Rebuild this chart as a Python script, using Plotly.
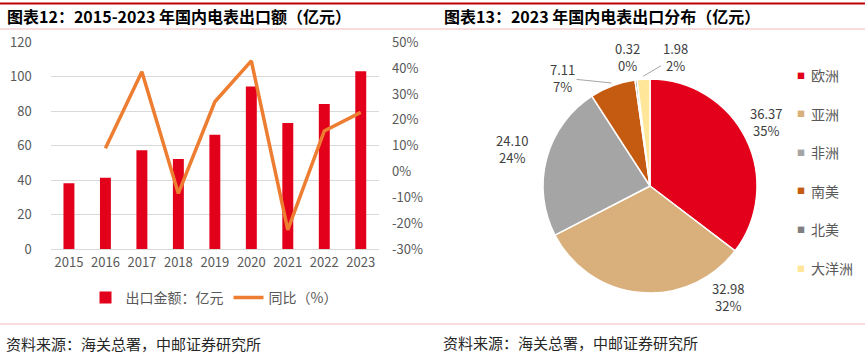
import math
import plotly.graph_objects as go

# ---------------- data ----------------
years = ["2015", "2016", "2017", "2018", "2019", "2020", "2021", "2022", "2023"]
export_value = [38.1, 41.4, 57.3, 52.3, 66.4, 94.3, 73.2, 84.2, 103.2]
yoy_pct = [None, 9.0, 38.6, -8.5, 27.0, 42.8, -22.6, 15.7, 22.9]

left_tickvals = [0, 20, 40, 60, 80, 100, 120]
right_tickvals = [-30, -20, -10, 0, 10, 20, 30, 40, 50]
right_ticktext = ["-30%", "-20%", "-10%", "0%", "10%", "20%", "30%", "40%", "50%"]

regions = ["欧洲", "亚洲", "非洲", "南美", "北美", "大洋洲"]
region_values = [36.37, 32.98, 24.10, 7.11, 0.32, 1.98]
region_pct_labels = ["35%", "32%", "24%", "7%", "0%", "2%"]
region_colors = ["#E2001A", "#D9B07C", "#A5A5A5", "#C55A11", "#7F7F7F", "#FFE699"]

bar_name = "出口金额：亿元"
line_name = "同比（%）"
title_left = "图表12：2015-2023 年国内电表出口额（亿元）"
title_right = "图表13：2023 年国内电表出口分布（亿元）"
source_text = "资料来源：海关总署，中邮证券研究所"

# ---------------- styling / layout helpers ----------------
W, H = 865, 356
FONT = "Noto Sans CJK SC, Noto Sans, sans-serif"
TICK_COLOR = "#595959"

# pie label placement style (angle shift from slice middle, distance from centre, leader line)
label_angle_shift = [-2.6, -40, 0, -18.5, -2.5, 14.5]
label_dist = [132, 136, 143, 139, 131, 131]
label_leader = [False, False, False, True, False, True]


def fx(px):
    return px / W


def fy(py):
    return 1 - py / H


fig = go.Figure()

fig.add_trace(go.Bar(
    x=years, y=export_value, name=bar_name,
    marker=dict(color="#E2001A", line=dict(width=0)),
    width=0.3, yaxis="y", xaxis="x",
))
fig.add_trace(go.Scatter(
    x=years, y=yoy_pct, name=line_name, mode="lines",
    line=dict(color="#ED7D31", width=3.5),
    yaxis="y2", xaxis="x", connectgaps=False,
))

pie_cx, pie_cy, pie_r = 650, 186, 107
fig.add_trace(go.Pie(
    labels=regions, values=region_values,
    textposition="none",
    marker=dict(colors=region_colors, line=dict(color="white", width=1.5)),
    sort=False, direction="clockwise", rotation=0,
    domain=dict(x=[fx(pie_cx - pie_r), fx(pie_cx + pie_r)],
                y=[fy(pie_cy + pie_r), fy(pie_cy - pie_r)]),
    showlegend=False, hoverinfo="label+value+percent", automargin=False,
))

annotations = [
    dict(text=f"<b>{title_left}</b>", x=fx(5), y=fy(16), xanchor="left", yanchor="middle",
         font=dict(size=16, color="#000000", family=FONT)),
    dict(text=f"<b>{title_right}</b>", x=fx(442), y=fy(16), xanchor="left", yanchor="middle",
         font=dict(size=16, color="#000000", family=FONT)),
    dict(text=source_text, x=fx(4), y=fy(343), xanchor="left", yanchor="middle",
         font=dict(size=15, color="#262626", family=FONT)),
    dict(text=source_text, x=fx(441), y=fy(342), xanchor="left", yanchor="middle",
         font=dict(size=15, color="#262626", family=FONT)),
]

# pie data labels, positioned from each slice's angle
total = sum(region_values)
cum = 0.0
for i, v in enumerate(region_values):
    mid_deg = 360.0 * (cum + v / 2.0) / total
    cum += v
    lab_deg = mid_deg + label_angle_shift[i]
    lx = pie_cx + label_dist[i] * math.sin(math.radians(lab_deg))
    ly = pie_cy - label_dist[i] * math.cos(math.radians(lab_deg))
    txt = f"{v:.2f}<br>{region_pct_labels[i]}"
    font = dict(size=13, color="#404040", family=FONT)
    if label_leader[i]:
        tx = pie_cx + (pie_r + 3) * math.sin(math.radians(mid_deg))
        ty = pie_cy - (pie_r + 3) * math.cos(math.radians(mid_deg))
        annotations.append(dict(text=txt, x=fx(tx), y=fy(ty), ax=lx - tx, ay=ly - ty,
                                showarrow=True, arrowhead=0, arrowwidth=1,
                                arrowcolor="#A6A6A6", standoff=0, startstandoff=0,
                                font=font, align="center"))
    else:
        annotations.append(dict(text=txt, x=fx(lx), y=fy(ly), xanchor="center",
                                yanchor="middle", font=font, align="center"))

# pie legend (right side)
for i, (name, col) in enumerate(zip(regions, region_colors)):
    ypx = 75 + i * 38.6
    annotations.append(dict(text="■", x=fx(801), y=fy(ypx), xanchor="center", yanchor="middle",
                            font=dict(size=8, color=col, family=FONT)))
    annotations.append(dict(text=name, x=fx(809), y=fy(ypx), xanchor="left", yanchor="middle",
                            font=dict(size=14, color=TICK_COLOR, family=FONT)))
for a in annotations:
    a.update(xref="paper", yref="paper")
    a.setdefault("showarrow", False)

shapes = [
    dict(type="line", xref="paper", yref="paper", x0=0, x1=1, y0=fy(3.5), y1=fy(3.5),
         line=dict(color="#C00000", width=2)),
    dict(type="line", xref="paper", yref="paper", x0=0, x1=1, y0=fy(29), y1=fy(29),
         line=dict(color="#F2B8B8", width=1)),
    dict(type="line", xref="paper", yref="paper", x0=0, x1=1, y0=fy(324), y1=fy(324),
         line=dict(color="#F2B8B8", width=1)),
]

fig.update_layout(
    width=W, height=H,
    margin=dict(l=0, r=0, t=0, b=0, autoexpand=False),
    paper_bgcolor="white", plot_bgcolor="white",
    font=dict(family=FONT, size=13, color=TICK_COLOR),
    xaxis=dict(domain=[fx(50.7), fx(379)], type="category", showgrid=False,
               showline=False, ticks="", tickfont=dict(size=13, color=TICK_COLOR),
               ticklabelstandoff=4, automargin=False),
    yaxis=dict(domain=[fy(249), fy(42.3)], range=[0, 120], tickvals=left_tickvals,
               showgrid=True, gridcolor="#D9D9D9", gridwidth=1, zeroline=True,
               zerolinecolor="#D9D9D9", zerolinewidth=1, showline=False, ticks="",
               tickfont=dict(size=13, color=TICK_COLOR), ticklabelstandoff=18,
               automargin=False),
    yaxis2=dict(overlaying="y", side="right", anchor="x", range=[-30, 50],
                tickvals=right_tickvals, ticktext=right_ticktext,
                showgrid=False, zeroline=False, showline=False, ticks="",
                tickfont=dict(size=13, color=TICK_COLOR), ticklabelstandoff=12,
                automargin=False),
    legend=dict(orientation="h", x=fx(214), y=fy(298), xanchor="center", yanchor="middle",
                font=dict(size=14, color=TICK_COLOR, family=FONT),
                bgcolor="rgba(0,0,0,0)", itemwidth=30, traceorder="normal"),
    annotations=annotations,
    shapes=shapes,
    bargap=0.7,
)

# remove the browser's default 8px body margin so the figure sits at the window's corner
fig.write_html("out.html", config={"displayModeBar": False},
               post_script="document.body.style.margin='0px';")
